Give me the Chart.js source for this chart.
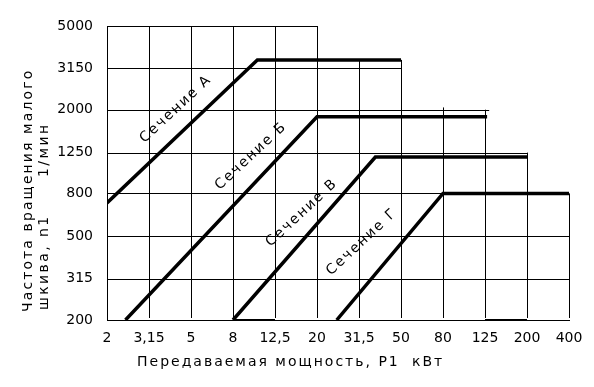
<!DOCTYPE html>
<html>
<head>
<meta charset="utf-8">
<script src="https://cdn.jsdelivr.net/npm/chart.js@4"></script>
<style>
    html, body { margin: 0; padding: 0; background: #fff; }
    #wrap { width: 594px; height: 387px; }
</style>
</head>
<body>
<div id="wrap"><canvas id="beltChart" width="594" height="387"></canvas></div>
<script>
// x axis: power P1, kW (grid columns are evenly spaced, so x is the column index)
const powerLabels = ['2', '3,15', '5', '8', '12,5', '20', '31,5', '50', '80', '125', '200', '400'];
// y axis: small pulley speed n1, 1/min (log scale)
const speedTicks = [200, 315, 500, 800, 1250, 2000, 3150, 5000];

// belt sections: column index and speed for each break point
const sectionNames = ['Сечение А', 'Сечение Б', 'Сечение В', 'Сечение Г'];
const secA_x = [0, 3.58, 7];
const secA_n = [720, 3450, 3450];
const secB_x = [0.44, 5, 9.05];
const secB_n = [200, 1850, 1850];
const secV_x = [3, 6.39, 10];
const secV_n = [200, 1190, 1190];
const secG_x = [5.47, 8, 11];
const secG_n = [200, 800, 800];

// short heavy strokes lying on the bottom axis
const baseMarks_x = [[3, 4], [9, 10]];

// stepped grid: how far each horizontal line runs, how high each vertical line goes
const hLineEnd = [11, 11, 11, 11, 10, 9.1, 7, 5];
const vLineTop = [5000, 5000, 5000, 5000, 5000, 5000, 3450, 3450, 2050, 2000, 1250, 800];

// where each section caption sits (column index, speed)
const captionX = [1.64, 3.43, 4.64, 6.07];
const captionN = [2015, 1205, 646, 470];

const toPoints = (xs, ys) => xs.map((x, i) => ({ x: x, y: ys[i] }));

const sectionSets = [
    [secA_x, secA_n], [secB_x, secB_n], [secV_x, secV_n], [secG_x, secG_n]
].map(([xs, ys], i) => ({
    label: sectionNames[i],
    data: toPoints(xs, ys),
    borderColor: '#000',
    borderWidth: 3.5,
    pointRadius: 0,
    showLine: true,
    tension: 0
}));

const baseSets = baseMarks_x.map(xs => ({
    label: 'base',
    data: toPoints(xs, [200, 200]),
    borderColor: '#000',
    borderWidth: 2,
    pointRadius: 0,
    showLine: true
}));

const FONT = '"DejaVu Sans", sans-serif';

const textWithSpacing = (ctx, text, x, y, spacing) => {
    ctx.letterSpacing = spacing + 'px';
    ctx.fillText(text, x, y);
    ctx.letterSpacing = '0px';
};

const steppedGrid = {
    id: 'steppedGrid',
    beforeDatasetsDraw(chart) {
        const { ctx, scales: { x, y } } = chart;
        ctx.save();
        ctx.strokeStyle = '#000';
        ctx.lineWidth = 1;
        ctx.beginPath();
        speedTicks.forEach((n, i) => {
            if (i === 0) return;
            const py = Math.round(y.getPixelForValue(n)) + 0.5;
            ctx.moveTo(x.getPixelForValue(0), py);
            ctx.lineTo(x.getPixelForValue(hLineEnd[i]), py);
        });
        powerLabels.forEach((p, i) => {
            if (i === 0) return;
            const px = Math.round(x.getPixelForValue(i)) + 0.5;
            ctx.moveTo(px, y.getPixelForValue(200) - 2);
            ctx.lineTo(px, y.getPixelForValue(vLineTop[i]));
        });
        ctx.stroke();
        ctx.restore();
    },
    afterDraw(chart) {
        const { ctx, scales: { x, y } } = chart;
        ctx.save();
        ctx.fillStyle = '#000';
        ctx.font = '14px ' + FONT;
        ctx.textBaseline = 'middle';

        // section captions along the lines
        ctx.textAlign = 'center';
        sectionNames.forEach((name, i) => {
            ctx.save();
            ctx.translate(x.getPixelForValue(captionX[i]), y.getPixelForValue(captionN[i]));
            ctx.rotate(-43 * Math.PI / 180);
            textWithSpacing(ctx, name, 0, 0, 1.8);
            ctx.restore();
        });

        // x axis title
        ctx.textAlign = 'left';
        textWithSpacing(ctx, 'Передаваемая мощность, P1', 137, 362, 2.0);
        textWithSpacing(ctx, 'кВт', 412, 362, 2.0);

        // y axis title, two rotated lines
        ctx.save();
        ctx.translate(28, 312);
        ctx.rotate(-Math.PI / 2);
        textWithSpacing(ctx, 'Частота вращения малого', 0, 0, 2.1);
        ctx.restore();
        ctx.save();
        ctx.translate(44, 310);
        ctx.rotate(-Math.PI / 2);
        textWithSpacing(ctx, 'шкива, n1', 0, 0, 2.4);
        textWithSpacing(ctx, '1/мин', 133, 0, 2.4);
        ctx.restore();

        ctx.restore();
    }
};

Chart.defaults.font.family = FONT;
Chart.defaults.font.size = 14;
Chart.defaults.color = '#000';

new Chart(document.getElementById('beltChart'), {
    type: 'scatter',
    data: { datasets: sectionSets.concat(baseSets) },
    options: {
        responsive: false,
        animation: false,
        layout: { padding: { top: 26, right: 25, left: 0, bottom: 0 } },
        plugins: {
            legend: { display: false },
            tooltip: { enabled: false }
        },
        scales: {
            x: {
                type: 'linear',
                min: 0,
                max: 11,
                afterFit: scale => { scale.height = 67; },
                afterBuildTicks: scale => {
                    scale.ticks = powerLabels.map((p, i) => ({ value: i }));
                },
                ticks: {
                    autoSkip: false,
                    maxRotation: 0,
                    padding: 10,
                    callback: v => powerLabels[v]
                },
                grid: { display: false, drawTicks: false },
                border: { display: true, color: '#000', width: 1 }
            },
            y: {
                type: 'logarithmic',
                min: 200,
                max: 5000,
                afterFit: scale => { scale.width = 107; },
                afterBuildTicks: scale => {
                    scale.ticks = speedTicks.map(v => ({ value: v }));
                },
                ticks: {
                    autoSkip: false,
                    padding: 14,
                    callback: v => String(v)
                },
                grid: { display: false, drawTicks: false },
                border: { display: true, color: '#000', width: 1 }
            }
        }
    },
    plugins: [steppedGrid]
});
</script>
</body>
</html>
